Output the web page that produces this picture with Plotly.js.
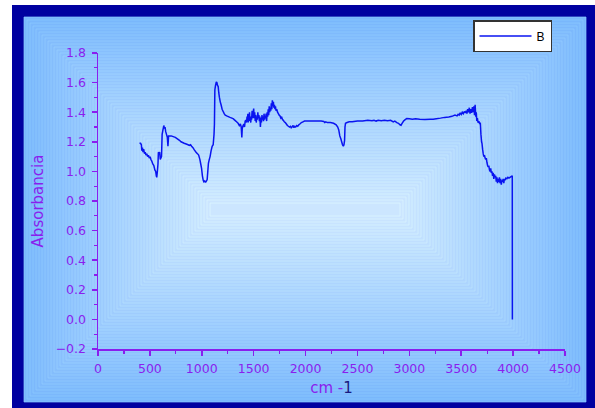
<!DOCTYPE html>
<html>
<head>
<meta charset="utf-8">
<script src="https://cdn.plot.ly/plotly-3.0.1.min.js"></script>
<style>html,body{margin:0;padding:0;background:#fff;}#chart{width:595px;height:408px;}</style>
</head>
<body>
<div id="chart"></div>
<script>
// Wavenumber (cm-1)
var wavenumber = [
 400,410,418,422,428,434,440,448,455,462,470,478,486,494,502,510,518,528,538,548,556,562,566,572,578,582,588,594,600,606,612,618,626,634,640,646,652,660,668,674,680,690,705,725,745,765,785,800,815,830,850,868,880,892,902,915,928,945,958,970,982,990,998,1006,1014,1020,1028,1036,1044,1052,1058,1064,1072,1080,1090,1100,1110,1118,1122,1126,1132,1140,1146,1152,1158,1164,1170,1178,1186,1196,1206,1216,1226,1240,1256,1272,1290,1305,1320,1335,1350,1362,1372,1380,1386,1390,1398,1405,1412,1418,1426,1432,
 1436,1440,1444,1448,1452,1456,1460,1464,1468,1472,1476,1480,1485,1490,1495,1500,1505,1510,1515,1520,1525,1530,1535,1540,1545,1550,1555,1560,1565,1570,1575,1580,1585,1590,1595,1600,1605,1610,1615,1620,1625,1630,1635,1640,1645,1650,1655,1660,1665,1670,1675,1680,1685,1690,1695,1700,1705,1710,1715,1722,1730,1738,1746,1754,1762,1770,1778,1786,1795,1805,1815,1825,1835,1845,1855,1862,1870,1880,1888,1896,1905,1915,1925,1935,1945,1960,1975,1990,2050,2100,2150,2175,2185,2195,2210,2240,2270,2295,2310,2320,2330,2340,2348,2356,2364,2370,2376,2380,2385,2400,2420,2450,2500,2550,2600,2640,2660,2680,2700,2730,2760,2790,2820,2845,2860,2880,2895,2910,2920,2930,2945,2960,2975,3000,3030,3060,3100,3150,3200,3230,3260,3300,3340,3380,3410,3440,3460,3470,3480,3490,3500,3510,3520,3530,3540,3548,3555,3562,3570,3578,3585,3592,3600,3608,3615,3622,3628,3634,3640,3645,3650,3656,3662,3670,3678,3684,3690,3696,3700,3706,3712,3718,3724,3730,3736,3742,3748,3754,3760,3766,3772,3778,3784,3790,3796,3802,3808,3814,3820,3826,3832,3838,3844,3850,3856,3862,3868,3874,3880,3886,3892,3898,3904,3910,3916,3922,3930,3940,3950,3960,3970,3980,3992,3993
];
// Absorbance
var absorbance = [
 1.19,1.19,1.18,1.14,1.16,1.13,1.15,1.12,1.13,1.11,1.12,1.10,1.11,1.09,1.10,1.08,1.07,1.05,1.04,1.01,1.00,0.97,0.96,1.00,1.05,1.13,1.12,1.13,1.08,1.09,1.10,1.25,1.28,1.31,1.29,1.30,1.27,1.25,1.23,1.17,1.24,1.24,1.24,1.235,1.23,1.22,1.21,1.20,1.195,1.19,1.185,1.18,1.175,1.18,1.17,1.16,1.145,1.13,1.12,1.11,1.08,1.05,1.02,0.97,0.94,0.93,0.935,0.925,0.935,0.945,1.00,1.055,1.08,1.10,1.14,1.17,1.18,1.25,1.32,1.55,1.58,1.605,1.60,1.58,1.575,1.53,1.50,1.47,1.45,1.42,1.405,1.39,1.38,1.375,1.37,1.365,1.36,1.355,1.345,1.335,1.325,1.31,1.32,1.30,1.23,1.29,1.31,1.32,1.30,1.34,1.345,1.33,
 1.37,1.34,1.39,1.33,1.38,1.35,1.40,1.34,1.36,1.33,1.37,1.35,1.41,1.36,1.39,1.425,1.36,1.40,1.34,1.38,1.33,1.37,1.35,1.40,1.36,1.38,1.34,1.37,1.30,1.36,1.33,1.38,1.35,1.37,1.34,1.39,1.35,1.37,1.36,1.39,1.34,1.40,1.37,1.42,1.38,1.44,1.40,1.43,1.41,1.46,1.42,1.48,1.44,1.47,1.43,1.45,1.42,1.44,1.41,1.42,1.40,1.39,1.38,1.375,1.36,1.365,1.35,1.345,1.335,1.33,1.32,1.31,1.305,1.30,1.305,1.295,1.30,1.31,1.295,1.305,1.30,1.31,1.305,1.315,1.32,1.33,1.335,1.34,1.34,1.34,1.34,1.338,1.33,1.335,1.33,1.33,1.325,1.315,1.30,1.28,1.24,1.22,1.20,1.18,1.17,1.18,1.21,1.30,1.325,1.33,1.335,1.335,1.34,1.34,1.345,1.342,1.346,1.34,1.345,1.342,1.345,1.343,1.345,1.335,1.34,1.33,1.325,1.315,1.312,1.325,1.34,1.35,1.357,1.355,1.352,1.355,1.352,1.35,1.352,1.353,1.356,1.36,1.365,1.368,1.372,1.38,1.375,1.385,1.38,1.395,1.385,1.40,1.39,1.405,1.395,1.41,1.39,1.42,1.40,1.43,1.39,1.42,1.395,1.435,1.40,1.44,1.38,1.45,1.37,1.40,1.34,1.36,1.33,1.34,1.32,1.33,1.25,1.20,1.19,1.15,1.12,1.10,1.11,1.09,1.08,1.09,1.06,1.04,1.03,1.04,1.01,1.00,1.02,0.99,1.00,0.97,0.99,0.95,0.98,0.96,0.97,0.93,0.96,0.92,0.95,0.93,0.96,0.92,0.95,0.91,0.94,0.93,0.95,0.92,0.95,0.94,0.955,0.95,0.96,0.955,0.96,0.965,0.97,0.0
];
var seriesName = 'B';
var xTitle = 'cm -';
var xTitleSup = '1';
var yTitle = 'Absorbancia';

// pixel helpers for decoration (plot area: x 98..565, y 53..349)
var L = 98, R = 565, T = 53, B = 349;
function px(p){ return (p - L) / (R - L); }
function py(p){ return (B - p) / (B - T); }

var shapes = [];
shapes.push({type:'rect', xref:'paper', yref:'paper', layer:'below',
  x0:px(12), x1:px(600), y0:py(5), y1:py(412), fillcolor:'#0000A0', line:{width:0}});
var c0 = [120,182,252], c1 = [204,230,255];
var N = 62;
for (var i = 0; i <= N; i++) {
  var d = i * 3, t = i / N;
  var c = c0.map(function(v, k){ return Math.round(v + (c1[k] - v) * t); });
  var cl = c.map(function(v){ return Math.min(255, v + 18); });
  shapes.push({type:'rect', xref:'paper', yref:'paper', layer:'below',
    x0:px(24 + d), x1:px(586 - d), y0:py(17 + d), y1:py(402 - d),
    fillcolor:'rgb(' + c.join(',') + ')',
    line:{width:0.7, color:'rgb(' + cl.join(',') + ')'}});
}

var purple = '#8A1EEE';
var tickFont = {family:'DejaVu Sans, Arial, sans-serif', size:12.5, color:purple};

var trace = {
  x: wavenumber, y: absorbance, type:'scatter', mode:'lines', name: seriesName,
  line:{color:'#0A14F0', width:1.5, simplify:false}
};

var layout = {
  width:595, height:408,
  margin:{l:L, r:595-R, t:T, b:408-B, pad:0},
  paper_bgcolor:'#ffffff', plot_bgcolor:'rgba(0,0,0,0)',
  shapes: shapes,
  showlegend:true,
  legend:{x:px(473), y:py(20), xanchor:'left', yanchor:'top',
    bgcolor:'#ffffff', bordercolor:'#333333', borderwidth:1.5,
    font:{family:'Liberation Sans, Arial, sans-serif', size:12, color:'#000'},
    itemwidth:52, tracegroupgap:0},
  xaxis:{range:[0,4500], tick0:0, dtick:500, ticks:'outside', ticklen:5, tickwidth:1.5,
    tickcolor:purple, showline:true, linecolor:purple, linewidth:1.5,
    showgrid:false, zeroline:false, tickfont:tickFont, ticklabelstandoff:2,
    minor:{dtick:250, ticks:'outside', ticklen:3, tickwidth:1.2, tickcolor:purple, showgrid:false},
    title:{text: '  ' + xTitle + '<span style="color:#1A1A80">' + xTitleSup + '</span>',
      font:{family:'DejaVu Sans, Arial, sans-serif', size:15, color:purple}, standoff:8}},
  yaxis:{range:[-0.2,1.8], tick0:0, dtick:0.2, tickformat:'.1f', ticks:'outside', ticklen:5, tickwidth:1.5,
    tickcolor:purple, showline:true, linecolor:purple, linewidth:1.5,
    showgrid:false, zeroline:false, tickfont:tickFont, ticklabelstandoff:3,
    minor:{dtick:0.1, ticks:'outside', ticklen:3, tickwidth:1.2, tickcolor:purple, showgrid:false},
    title:{text: yTitle, font:{family:'DejaVu Sans, Arial, sans-serif', size:15, color:purple}, standoff:8}}
};

Plotly.newPlot('chart', [trace], layout, {staticPlot:true, displayModeBar:false});
</script>
</body>
</html>
